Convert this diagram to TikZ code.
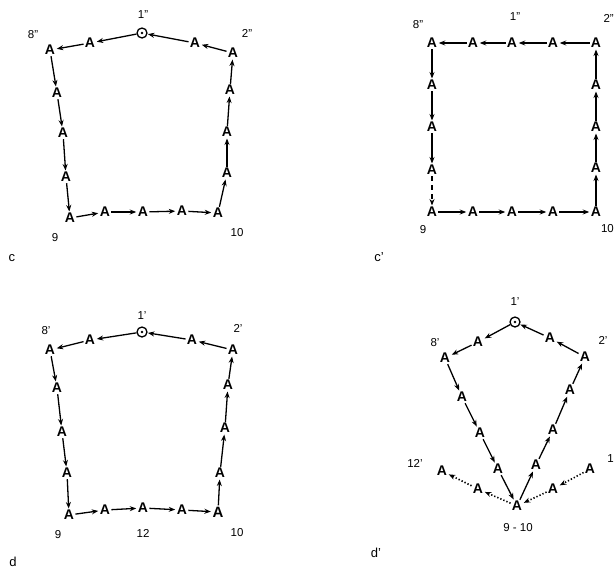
\documentclass[tikz,border=0pt]{standalone}
\usepackage{fontspec}
\setmainfont{Liberation Sans}
\usetikzlibrary{arrows.meta}
\tikzset{
  aa/.style={font=\fontsize{14}{14}\selectfont\bfseries, inner sep=1.2pt},
  lab/.style={font=\fontsize{11.5}{11.5}\selectfont, inner sep=0pt},
  plab/.style={font=\fontsize{13}{13}\selectfont, inner sep=0pt},
  ring/.style={draw, circle, minimum size=10pt, inner sep=0pt, line width=1.3pt},
  arr/.style={-{Stealth[length=6.5pt,width=5pt]}, line width=1.3pt, shorten >=0.3pt},
  dotarr/.style={arr, dotted, line width=1.6pt}
}
\begin{document}
\begin{tikzpicture}[x=1pt,y=-1pt]
\clip (0,0) rectangle (615,571);
\fill[white] (0,0) rectangle (615,571);

% ---------------- panel c ----------------
\node[ring] (co) at (142,33) {};
\fill (co.center) circle (1.4pt);
\node[aa] (ct1) at (90,43) {A};
\node[aa] (c8) at (50,50) {A};
\node[aa] (ct2) at (195,43) {A};
\node[aa] (c2) at (233,53) {A};
\node[aa] (cl1) at (57,93) {A};
\node[aa] (cl2) at (63,133) {A};
\node[aa] (cl3) at (66,177) {A};
\node[aa] (c9) at (70,218) {A};
\node[aa] (cb1) at (105,212) {A};
\node[aa] (cb2) at (143,212) {A};
\node[aa] (cb3) at (182,211) {A};
\node[aa] (c10) at (218,213) {A};
\node[aa] (cr1) at (227,173) {A};
\node[aa] (cr2) at (227,132) {A};
\node[aa] (cr3) at (230,90) {A};
\foreach \a/\b in {c2/ct2, ct2/co, co/ct1, ct1/c8, c8/cl1, cl1/cl2, cl2/cl3, cl3/c9,
  c9/cb1, cb1/cb2, cb2/cb3, cb3/c10, c10/cr1, cr1/cr2, cr2/cr3, cr3/c2}
  \draw[arr] (\a) -- (\b);
\node[lab] (lc1) at (143,15) {1"};
\node[lab] (lc8) at (33,35) {8"};
\node[lab] (lc2) at (247,33) {2"};
\node[lab] (lc9) at (55,238) {9};
\node[lab] (lc10) at (237,233) {10};
\node[plab] (lc) at (12,258) {c};

% ---------------- panel c' ----------------
\node[aa] (p8) at (432,43) {A};
\node[aa] (pt1) at (473,43) {A};
\node[aa] (pt2) at (512,43) {A};
\node[aa] (pt3) at (553,43) {A};
\node[aa] (p2) at (596,43) {A};
\node[aa] (pl1) at (432,85) {A};
\node[aa] (pl2) at (432,127) {A};
\node[aa] (pl3) at (432,170) {A};
\node[aa] (p9) at (432,212) {A};
\node[aa] (pb1) at (473,212) {A};
\node[aa] (pb2) at (512,212) {A};
\node[aa] (pb3) at (553,212) {A};
\node[aa] (p10) at (596,212) {A};
\node[aa] (pr1) at (596,168) {A};
\node[aa] (pr2) at (596,127) {A};
\node[aa] (pr3) at (596,85) {A};
\foreach \a/\b in {p2/pt3, pt3/pt2, pt2/pt1, pt1/p8, p8/pl1, pl1/pl2, pl2/pl3,
  p9/pb1, pb1/pb2, pb2/pb3, pb3/p10, p10/pr1, pr1/pr2, pr2/pr3, pr3/p2}
  \draw[arr] (\a) -- (\b);
\draw[arr, dash pattern=on 5pt off 4pt] (pl3) -- (p9);
\node[lab] (lp8) at (418,25) {8"};
\node[lab] (lp1) at (515,17) {1"};
\node[lab, anchor=east] (lp2) at (614,18) {2"};
\node[lab] (lp9) at (423,230) {9};
\node[lab, anchor=east] (lp10) at (614,229) {10};
\node[plab] (lp) at (379,257) {c'};

% ---------------- panel d ----------------
\node[ring] (do) at (142,332) {};
\fill (do.center) circle (1.4pt);
\node[aa] (dt1) at (90,340) {A};
\node[aa] (d8) at (50,350) {A};
\node[aa] (dt2) at (192,340) {A};
\node[aa] (d2) at (233,350) {A};
\node[aa] (dl1) at (57,388) {A};
\node[aa] (dl2) at (62,432) {A};
\node[aa] (dl3) at (67,473) {A};
\node[aa] (d9) at (69,515) {A};
\node[aa] (db1) at (105,510) {A};
\node[aa] (db2) at (143,508) {A};
\node[aa] (db3) at (182,510) {A};
\node[aa, font=\fontsize{15}{15}\selectfont\bfseries] (d10) at (218,512) {A};
\node[aa] (dr1) at (220,473) {A};
\node[aa] (dr2) at (225,428) {A};
\node[aa] (dr3) at (228,385) {A};
\foreach \a/\b in {d2/dt2, dt2/do, do/dt1, dt1/d8, d8/dl1, dl1/dl2, dl2/dl3, dl3/d9,
  d9/db1, db1/db2, db2/db3, db3/d10, d10/dr1, dr1/dr2, dr2/dr3, dr3/d2}
  \draw[arr] (\a) -- (\b);
\node[lab] (ld1) at (142,316) {1'};
\node[lab] (ld8) at (46,331) {8'};
\node[lab] (ld2) at (238,328) {2'};
\node[lab] (ld9) at (58,535) {9};
\node[lab] (ld12) at (143,533) {12};
\node[lab] (ld10) at (237,533) {10};
\node[plab] (ld) at (13,562) {d};

% ---------------- panel d' ----------------
\node[ring] (eo) at (515,322) {};
\fill (eo.center) circle (1.4pt);
\node[aa] (et1) at (478,342) {A};
\node[aa] (e8) at (445,358) {A};
\node[aa] (et2) at (550,338) {A};
\node[aa] (e2) at (585,357) {A};
\node[aa] (el1) at (462,397) {A};
\node[aa] (el2) at (480,433) {A};
\node[aa] (el3) at (498,469) {A};
\node[aa] (e9) at (517,506) {A};
\node[aa] (er1) at (536,465) {A};
\node[aa] (er2) at (553,430) {A};
\node[aa] (er3) at (570,390) {A};
\node[aa] (ew1) at (478,489) {A};
\node[aa] (e12) at (442,471) {A};
\node[aa] (ee1) at (553,489) {A};
\node[aa] (e11) at (590,469) {A};
\foreach \a/\b in {e2/et2, et2/eo, eo/et1, et1/e8, e8/el1, el1/el2, el2/el3, el3/e9,
  e9/er1, er1/er2, er2/er3, er3/e2}
  \draw[arr] (\a) -- (\b);
\foreach \a/\b in {e9/ew1, ew1/e12, e11/ee1, ee1/e9}
  \draw[dotarr] (\a) -- (\b);
\node[lab] (le1) at (515,302) {1'};
\node[lab] (le8) at (435,343) {8'};
\node[lab] (le2) at (603,340) {2'};
\node[lab] (le12) at (415,463) {12'};
\node[lab, anchor=east] (le11) at (614,459) {1};
\node[lab] (le9) at (518,528) {9 - 10};
\node[plab] (le) at (376,553) {d'};
\end{tikzpicture}
\end{document}
